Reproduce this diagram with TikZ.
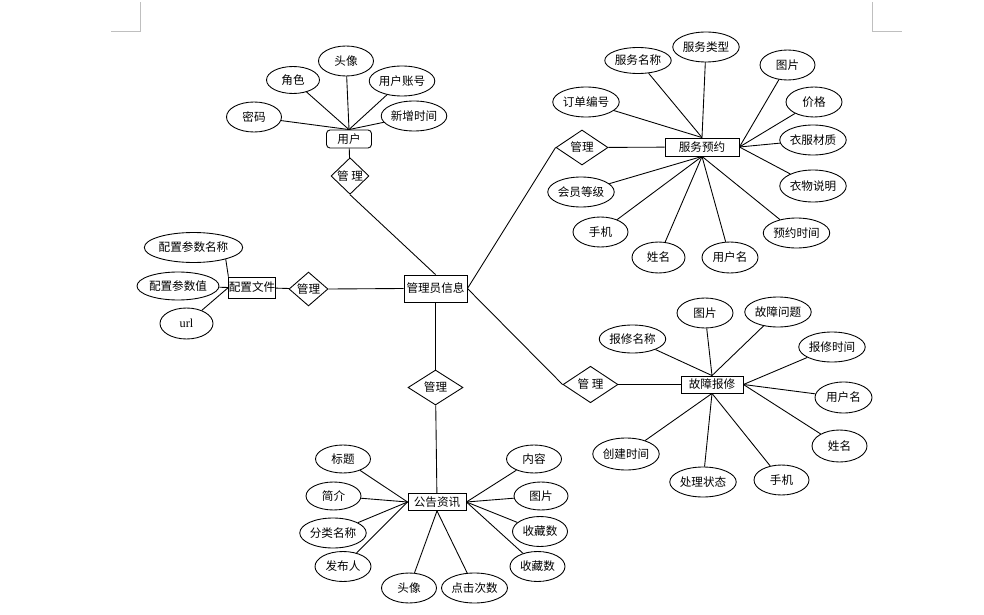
\documentclass[tikz,border=0pt]{standalone}
\usepackage{fontspec}
\newfontfamily\cjk{Noto Sans CJK SC}
\newfontfamily\urlfont{Liberation Serif}
\usetikzlibrary{shapes.geometric}
\tikzset{
  attr/.style={ellipse, draw, inner sep=0pt, minimum width=1.1cm, minimum height=0.6cm},
  wattr/.style={attr, minimum width=1.33cm},
  ent/.style={rectangle, draw, inner sep=0pt, minimum height=0.36cm},
  rel/.style={diamond, draw, inner sep=0pt, minimum width=1.1cm, minimum height=0.7cm},
}
\begin{document}
\begin{tikzpicture}[x=0.02cm, y=-0.02cm, line width=0.5pt, font=\cjk\fontsize{6.6}{8}\selectfont]
      \useasboundingbox (0,0) rectangle (984,615);
      % page corner marks
      \draw[gray!50] (111,31) -- (140,31) -- (140,2);
      \draw[gray!50] (872,2) -- (872,31) -- (902,31);
      \draw
        (435.5,288.5) node[ent, minimum width=1.26cm, minimum height=0.54cm] (admin){管理员信息}
        % user
        (349,139) node[ent, rounded corners=2pt, minimum width=0.9cm] (user){用户}
        (350,176) node[rel, minimum width=0.76cm, minimum height=0.56cm] (umgr){管 理}
        (254,117) node[attr] (pwd){密码}
        (293,80) node[attr, minimum width=1.06cm, minimum height=0.54cm] (role){角色}
        (346,61) node[attr] (avatar){头像}
        (402,81) node[attr, minimum width=1.3cm] (account){用户账号}
        (414,116) node[attr, minimum width=1.14cm] (addtime){新增时间}
        % config
        (252,287.5) node[ent, minimum width=0.9cm, minimum height=0.42cm] (cfg){配置文件}
        (308.5,289) node[rel, minimum width=0.78cm, minimum height=0.44cm] (cmgr){管理}
        (193.5,247.5) node[attr, minimum width=1.56cm] (cfgname){配置参数名称}
        (178,286) node[attr, minimum width=1.48cm, minimum height=0.56cm] (cfgval){配置参数值}
        (186.5,323.5) node[attr, minimum width=1.06cm, minimum height=0.62cm,
          font=\urlfont\fontsize{7}{8}\selectfont] (url){url}
        % service
        (702,147) node[ent, minimum width=1.48cm] (svc){服务预约}
        (582,147.5) node[rel, minimum width=1.04cm] (smgr){管理}
        (638,60.5) node[wattr, minimum height=0.52cm] (svcname){服务名称}
        (706,47) node[wattr] (svctype){服务类型}
        (787.5,65) node[attr] (svcpic){图片}
        (586,102) node[wattr] (orderno){订单编号}
        (814,102) node[attr, minimum width=1.12cm] (price){价格}
        (813,140) node[wattr] (fabric){衣服材质}
        (813,186) node[wattr, minimum height=0.64cm] (clothdesc){衣物说明}
        (581,192) node[wattr] (level){会员等级}
        (600.5,232) node[attr] (sphone){手机}
        (658.5,257.5) node[attr, minimum width=1.06cm, minimum height=0.62cm] (sname){姓名}
        (730,257.5) node[attr, minimum width=1.12cm, minimum height=0.62cm] (suser){用户名}
        (796.5,233) node[wattr] (booktime){预约时间}
        % repair
        (712,384.5) node[ent, minimum width=1.24cm, minimum height=0.34cm] (rep){故障报修}
        (590.5,384.5) node[rel] (rmgr){管 理}
        (632.5,339) node[wattr, minimum height=0.56cm] (repname){报修名称}
        (705,313) node[attr, minimum width=1.12cm] (reppic){图片}
        (778,312) node[wattr] (fault){故障问题}
        (832,347) node[wattr] (reptime){报修时间}
        (843.5,397.5) node[attr, minimum width=1.14cm, minimum height=0.62cm] (ruser){用户名}
        (839.5,446) node[attr, minimum height=0.64cm] (rname){姓名}
        (626,454) node[wattr, minimum height=0.64cm] (ctime){创建时间}
        (703,482) node[wattr] (state){处理状态}
        (781.5,480) node[attr] (rphone){手机}
        % notice
        (435.5,387.5) node[rel] (nmgr){管理}
        (437,502) node[ent, minimum width=1.16cm, minimum height=0.34cm] (news){公告资讯}
        (343,459) node[attr, minimum height=0.56cm] (title){标题}
        (333.5,496) node[attr, minimum height=0.56cm] (intro){简介}
        (333,533) node[wattr] (cat){分类名称}
        (343,566.5) node[attr, minimum width=1.12cm] (author){发布人}
        (409,588) node[attr] (navatar){头像}
        (474.5,588) node[wattr, minimum width=1.32cm] (clicks){点击次数}
        (534,459) node[attr, minimum height=0.56cm] (content){内容}
        (541,496) node[attr, minimum width=1.08cm, minimum height=0.56cm] (npic){图片}
        (540,531.5) node[attr] (fav){收藏数}
        (537.5,566.5) node[attr] (fav2){收藏数};
      \begin{scope}[-]
        \draw (pwd) to (user.north);
        \draw (role) to (user.north);
        \draw (avatar) to (user.north);
        \draw (account) to (user.north);
        \draw (addtime) to (user.north);
        \draw (user) to (umgr);
        \draw (umgr.south) to (admin.north);
        \draw (cfgname.-20) to (cfg.north west);
        \draw (cfgval) to (cfg.west);
        \draw (url) to (cfg.west);
        \draw (cfg) to (cmgr);
        \draw (cmgr.east) to (admin.west);
        \draw (admin.east) to (smgr.west);
        \draw (smgr) to (svc);
        \draw (orderno) to (svc.north);
        \draw (svcname) to (svc.north);
        \draw (svctype) to (svc.north);
        \draw (svcpic) to (svc.east);
        \draw (price) to (svc.east);
        \draw (fabric) to (svc.east);
        \draw (clothdesc) to (svc.east);
        \draw (level) to (svc.south);
        \draw (sphone) to (svc.south);
        \draw (sname) to (svc.south);
        \draw (suser) to (svc.south);
        \draw (booktime) to (svc.south);
        \draw (admin.east) to (rmgr.west);
        \draw (rmgr) to (rep);
        \draw (repname) to (rep.north);
        \draw (reppic) to (rep.north);
        \draw (fault) to (rep.north);
        \draw (reptime) to (rep.east);
        \draw (ruser) to (rep.east);
        \draw (rname) to (rep.east);
        \draw (ctime) to (rep.south);
        \draw (state) to (rep.south);
        \draw (rphone) to (rep.south);
        \draw (admin) to (nmgr);
        \draw (nmgr) to (news);
        \draw (title) to (news.west);
        \draw (intro) to (news.west);
        \draw (cat) to (news.west);
        \draw (author) to (news.west);
        \draw (content) to (news.east);
        \draw (npic) to (news.east);
        \draw (fav) to (news.east);
        \draw (fav2) to (news.east);
        \draw (navatar) to (news.south);
        \draw (clicks) to (news.south);
      \end{scope}
    \end{tikzpicture}
\end{document}
